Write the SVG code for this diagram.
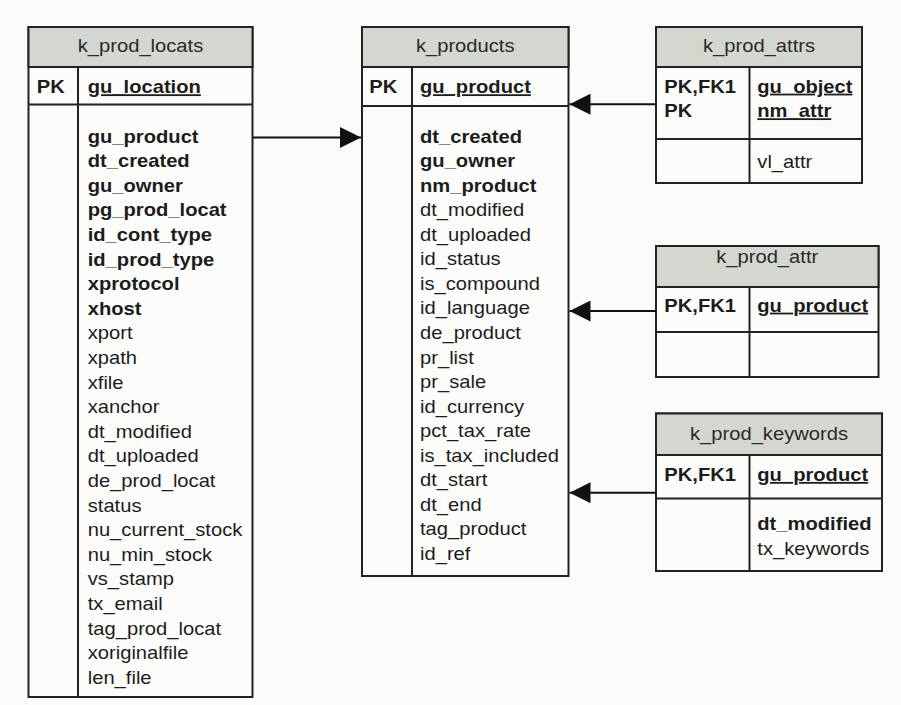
<svg xmlns="http://www.w3.org/2000/svg" width="901" height="705" viewBox="0 0 901 705">
  <defs>
    <marker id="arrow" viewBox="0 0 21 21" refX="21" refY="10.5" markerWidth="21" markerHeight="21" markerUnits="userSpaceOnUse" orient="auto">
      <path d="M0,0 L21,10.5 L0,21 Z" fill="#111"/>
    </marker>
  </defs>
  <style>
    .bg { fill: #fbfbfa; }
    .box { fill: #fcfcfb; stroke: #222; stroke-width: 2; }
    .head { fill: #d4d6d0; stroke: #222; stroke-width: 2; }
    .rule { stroke: #222; stroke-width: 2; fill: none; }
    .conn { stroke: #111; stroke-width: 2; fill: none; marker-end: url(#arrow); }
    text { font-family: "Liberation Sans", Arial, sans-serif; font-size: 18px; fill: #1c1c1c; }
    .title { text-anchor: middle; fill: #2a2a2a; }
    .b { font-weight: bold; }
    .u { font-weight: bold; text-decoration: underline; }
  </style>

  <rect class="bg" x="0" y="0" width="901" height="705"/>

  <!-- k_prod_locats -->
  <g id="k_prod_locats">
    <rect class="box" x="28.5" y="27" width="224" height="670"/>
    <rect class="head" x="28.5" y="27" width="224" height="40"/>
    <path class="rule" d="M28.5,104.5 H252.5 M78,67 V697"/>
    <g transform="translate(140.5,52.3) scale(1.12,1)"><text class="title" x="0" y="0">k_prod_locats</text></g>
    <g transform="translate(36.7,0) scale(1.12,1)"><text class="b" x="0" y="93.3">PK</text></g>
    <g transform="translate(87.7,0) scale(1.12,1)">
      <text class="u" x="0" y="93.3">gu_location</text>
      <text class="b" x="0" y="142.7">gu_product</text>
      <text class="b" x="0" y="167.3">dt_created</text>
      <text class="b" x="0" y="191.9">gu_owner</text>
      <text class="b" x="0" y="216.5">pg_prod_locat</text>
      <text class="b" x="0" y="241.1">id_cont_type</text>
      <text class="b" x="0" y="265.7">id_prod_type</text>
      <text class="b" x="0" y="290.3">xprotocol</text>
      <text class="b" x="0" y="314.9">xhost</text>
      <text x="0" y="339.5">xport</text>
      <text x="0" y="364.1">xpath</text>
      <text x="0" y="388.7">xfile</text>
      <text x="0" y="413.3">xanchor</text>
      <text x="0" y="437.9">dt_modified</text>
      <text x="0" y="462.5">dt_uploaded</text>
      <text x="0" y="487.1">de_prod_locat</text>
      <text x="0" y="511.7">status</text>
      <text x="0" y="536.3">nu_current_stock</text>
      <text x="0" y="560.9">nu_min_stock</text>
      <text x="0" y="585.5">vs_stamp</text>
      <text x="0" y="610.1">tx_email</text>
      <text x="0" y="634.7">tag_prod_locat</text>
      <text x="0" y="659.3">xoriginalfile</text>
      <text x="0" y="683.9">len_file</text>
    </g>
  </g>

  <!-- k_products -->
  <g id="k_products">
    <rect class="box" x="362" y="27" width="206.5" height="549"/>
    <rect class="head" x="362" y="27" width="206.5" height="40"/>
    <path class="rule" d="M362,106 H568.5 M412,67 V576"/>
    <g transform="translate(465.2,52.3) scale(1.12,1)"><text class="title" x="0" y="0">k_products</text></g>
    <g transform="translate(369.3,0) scale(1.12,1)"><text class="b" x="0" y="93.3">PK</text></g>
    <g transform="translate(420,0) scale(1.12,1)">
      <text class="u" x="0" y="93.3">gu_product</text>
      <text class="b" x="0" y="142.7">dt_created</text>
      <text class="b" x="0" y="167.2">gu_owner</text>
      <text class="b" x="0" y="191.8">nm_product</text>
      <text x="0" y="216.3">dt_modified</text>
      <text x="0" y="240.9">dt_uploaded</text>
      <text x="0" y="265.4">id_status</text>
      <text x="0" y="290">is_compound</text>
      <text x="0" y="314.5">id_language</text>
      <text x="0" y="339.1">de_product</text>
      <text x="0" y="363.6">pr_list</text>
      <text x="0" y="388.2">pr_sale</text>
      <text x="0" y="412.7">id_currency</text>
      <text x="0" y="437.3">pct_tax_rate</text>
      <text x="0" y="461.8">is_tax_included</text>
      <text x="0" y="486.4">dt_start</text>
      <text x="0" y="510.9">dt_end</text>
      <text x="0" y="535.5">tag_product</text>
      <text x="0" y="560">id_ref</text>
    </g>
  </g>

  <!-- k_prod_attrs -->
  <g id="k_prod_attrs">
    <rect class="box" x="656" y="27" width="206" height="156"/>
    <rect class="head" x="656" y="27" width="206" height="40"/>
    <path class="rule" d="M656,139 H862 M749.5,67 V183"/>
    <g transform="translate(759,52.3) scale(1.12,1)"><text class="title" x="0" y="0">k_prod_attrs</text></g>
    <g transform="translate(664.3,0) scale(1.12,1)">
      <text class="b" x="0" y="92.7">PK,FK1</text>
      <text class="b" x="0" y="117.3">PK</text>
    </g>
    <g transform="translate(757.3,0) scale(1.12,1)">
      <text class="u" x="0" y="92.7">gu_object</text>
      <text class="u" x="0" y="117.3">nm_attr</text>
      <text x="0" y="167.7">vl_attr</text>
    </g>
  </g>

  <!-- k_prod_attr -->
  <g id="k_prod_attr">
    <rect class="box" x="656" y="246" width="222.5" height="131"/>
    <rect class="head" x="656" y="246" width="222.5" height="41"/>
    <path class="rule" d="M656,332 H878.5 M749.5,287 V377"/>
    <g transform="translate(767.2,263.3) scale(1.12,1)"><text class="title" x="0" y="0">k_prod_attr</text></g>
    <g transform="translate(664.3,0) scale(1.12,1)"><text class="b" x="0" y="311.7">PK,FK1</text></g>
    <g transform="translate(757.3,0) scale(1.12,1)"><text class="u" x="0" y="311.7">gu_product</text></g>
  </g>

  <!-- k_prod_keywords -->
  <g id="k_prod_keywords">
    <rect class="box" x="656" y="413.5" width="226" height="157.5"/>
    <rect class="head" x="656" y="413.5" width="226" height="41.5"/>
    <path class="rule" d="M656,498.5 H882 M749.5,455 V571"/>
    <g transform="translate(769,440) scale(1.12,1)"><text class="title" x="0" y="0">k_prod_keywords</text></g>
    <g transform="translate(664.3,0) scale(1.12,1)"><text class="b" x="0" y="481">PK,FK1</text></g>
    <g transform="translate(757.3,0) scale(1.12,1)">
      <text class="u" x="0" y="481">gu_product</text>
      <text class="b" x="0" y="530">dt_modified</text>
      <text x="0" y="555">tx_keywords</text>
    </g>
  </g>

  <!-- foreign key references -->
  <g id="connectors">
    <path class="conn" d="M252.5,137.5 H361"/>
    <path class="conn" d="M656,104.2 H569.5"/>
    <path class="conn" d="M656,311 H569.5"/>
    <path class="conn" d="M656,492.7 H569.5"/>
  </g>
</svg>
